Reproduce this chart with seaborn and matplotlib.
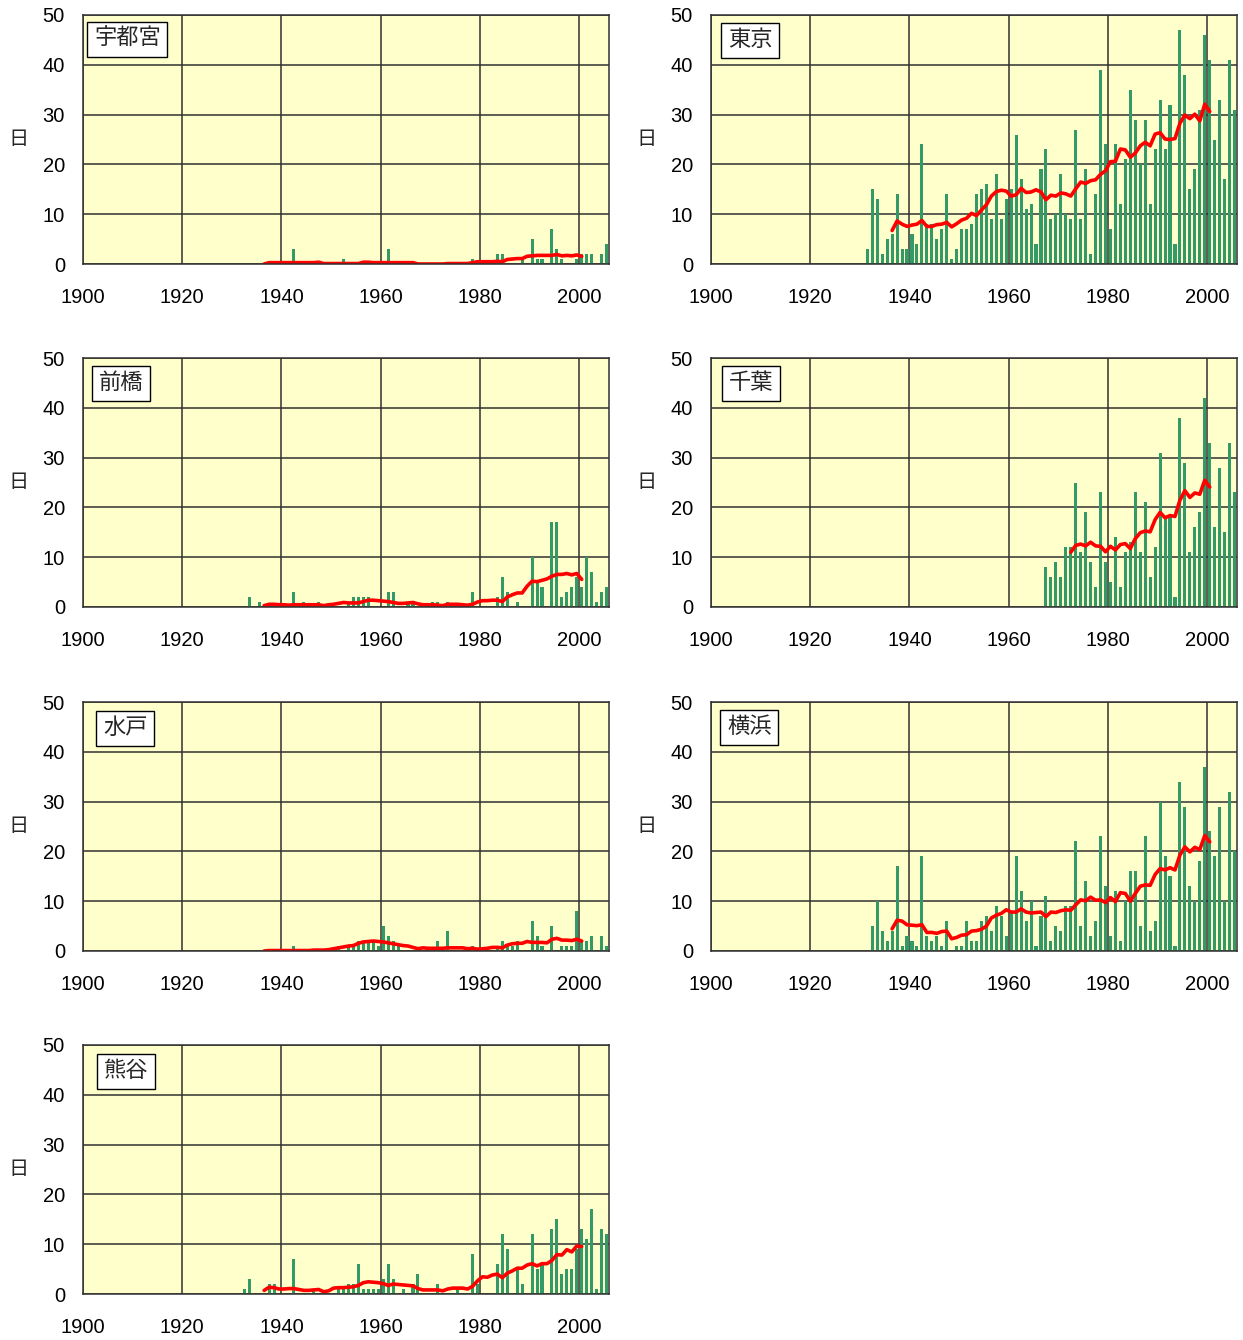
import numpy as np
import pandas as pd
import matplotlib
matplotlib.use("Agg")
import matplotlib.pyplot as plt
import seaborn as sns

sns.set_style("white")
plt.rcParams['font.family'] = ['Liberation Sans', 'Noto Sans CJK JP']

# ---------------- data (days per year) ----------------
years_full = list(range(1931, 2006))
years_chiba = list(range(1967, 2006))

def from_sparse(d):
    return [d.get(y, 0) for y in years_full]

utsunomiya = from_sparse({1942: 3, 1952: 1, 1961: 3, 1978: 1, 1983: 2, 1984: 2, 1988: 1,
                          1990: 5, 1991: 1, 1992: 1, 1994: 7, 1995: 3, 1996: 1, 1999: 1,
                          2000: 2, 2001: 2, 2002: 2, 2004: 2, 2005: 4})

tokyo = [3, 15, 13, 2, 5, 6, 14, 3, 3, 6,      # 1931-1940
         4, 24, 8, 8, 5, 7, 14, 1, 3, 7,       # 1941-1950
         7, 8, 14, 15, 16, 9, 18, 9, 13, 15,   # 1951-1960
         26, 17, 11, 12, 4, 19, 23, 9, 10, 18, # 1961-1970
         10, 9, 27, 9, 19, 2, 14, 39, 24, 7,   # 1971-1980
         24, 12, 21, 35, 29, 20, 29, 12, 23, 33,  # 1981-1990
         23, 32, 4, 47, 38, 15, 19, 31, 46, 41,   # 1991-2000
         25, 33, 17, 41, 31]                      # 2001-2005

maebashi = from_sparse({1933: 2, 1935: 1, 1942: 3, 1944: 1, 1947: 1, 1953: 1, 1954: 2,
                        1955: 2, 1956: 2, 1957: 2, 1961: 3, 1962: 3, 1965: 1, 1966: 1,
                        1970: 1, 1971: 1, 1973: 1, 1978: 3, 1983: 2, 1984: 6, 1985: 3,
                        1987: 1, 1990: 10, 1991: 5, 1992: 4, 1994: 17, 1995: 17, 1996: 2,
                        1997: 3, 1998: 4, 1999: 6, 2000: 4, 2001: 10, 2002: 7, 2003: 1,
                        2004: 3, 2005: 4})

chiba = [8, 6, 9, 6, 12, 12, 25, 11, 19, 9,    # 1967-1976
         4, 23, 9, 5, 14, 4, 11, 13, 23, 11,   # 1977-1986
         21, 6, 12, 31, 18, 18, 2, 38, 29, 11, # 1987-1996
         16, 19, 42, 33, 16, 28, 15, 33, 23]   # 1997-2005

mito = from_sparse({1942: 1, 1951: 1, 1953: 1, 1954: 1, 1955: 2, 1956: 2, 1957: 2,
                    1958: 2, 1959: 1, 1960: 5, 1961: 3, 1962: 2, 1963: 1, 1971: 2,
                    1973: 4, 1978: 1, 1983: 1, 1984: 2, 1985: 1, 1986: 1, 1987: 2,
                    1990: 6, 1991: 3, 1992: 1, 1994: 5, 1996: 1, 1997: 1, 1998: 1,
                    1999: 8, 2000: 2, 2001: 2, 2002: 3, 2004: 3, 2005: 1})

yokohama = [0, 5, 10, 4, 2, 4, 17, 1, 3, 2,    # 1931-1940
            1, 19, 3, 2, 3, 1, 6, 0, 1, 1,     # 1941-1950
            6, 2, 2, 6, 7, 4, 9, 7, 3, 8,      # 1951-1960
            19, 12, 6, 10, 1, 7, 11, 2, 5, 4,  # 1961-1970
            9, 9, 22, 5, 14, 3, 6, 23, 13, 3,  # 1971-1980
            12, 2, 10, 16, 16, 5, 23, 4, 6, 30,   # 1981-1990
            19, 15, 1, 34, 29, 13, 10, 18, 37, 24, # 1991-2000
            19, 29, 10, 32, 20]                    # 2001-2005

kumagaya = from_sparse({1932: 1, 1933: 3, 1937: 2, 1938: 2, 1942: 7, 1946: 1, 1951: 1,
                        1952: 1, 1953: 2, 1954: 2, 1955: 6, 1956: 1, 1957: 1, 1958: 1,
                        1959: 1, 1960: 3, 1961: 6, 1962: 3, 1964: 1, 1966: 2, 1967: 4,
                        1971: 2, 1975: 1, 1978: 8, 1979: 2, 1983: 6, 1984: 12, 1985: 9,
                        1987: 5, 1988: 2, 1990: 12, 1991: 5, 1992: 6, 1994: 13, 1995: 15,
                        1996: 4, 1997: 5, 1998: 5, 1999: 9, 2000: 13, 2001: 11, 2002: 17,
                        2003: 1, 2004: 13, 2005: 12})

station_names = ['宇都宮', '東京', '前橋', '千葉', '水戸', '横浜', '熊谷']
station_years = [years_full, years_full, years_full, years_chiba, years_full, years_full, years_full]
station_values = [utsunomiya, tokyo, maebashi, chiba, mito, yokohama, kumagaya]
x_ticks = [1900, 1920, 1940, 1960, 1980, 2000]
y_ticks = [0, 10, 20, 30, 40, 50]
y_label = '日'

# ---------------- layout ----------------
W, H = 1243, 1340
col_left = [83, 711]
row_top = [15, 358, 702, 1045]
ax_w, ax_h = 526, 249
# label box offsets (px from axes top-left)
label_off = [(5, 8), (11, 9), (10, 9), (12, 9), (14, 10), (10, 9), (15, 10)]

fig = plt.figure(figsize=(W / 100, H / 100), dpi=100)

for i, (name, yrs, vals) in enumerate(zip(station_names, station_years, station_values)):
    r, c = divmod(i, 2)
    left = col_left[c] / W
    bottom = 1 - (row_top[r] + ax_h) / H
    ax = fig.add_axes([left, bottom, ax_w / W, ax_h / H])
    ax.set_facecolor('#FFFFCC')
    ax.set_axisbelow(True)

    df = pd.DataFrame({'year': yrs, 'days': vals})
    df['x'] = df['year'] + 0.5
    sns.barplot(data=df, x='x', y='days', native_scale=True, color='#339966',
                saturation=1, width=0.62, errorbar=None, linewidth=0, ax=ax)
    ma = df['days'].rolling(11, center=True).mean()
    ok = ma.notna()
    sns.lineplot(x=df.loc[ok, 'x'], y=ma[ok], color='#FF0000', linewidth=2.6, ax=ax)

    ax.set_xlim(1900, 2006)
    ax.set_ylim(0, 50)
    ax.set_xticks(x_ticks)
    ax.set_xticklabels([str(t) for t in x_ticks])
    ax.set_yticks(y_ticks)
    ax.set_yticklabels([str(t) for t in y_ticks])
    ax.grid(True, color='#303030', linewidth=1.1)
    ax.tick_params(axis='both', length=0, labelsize=14.5, colors='black')
    ax.tick_params(axis='x', pad=17.5)
    ax.tick_params(axis='y', pad=13)
    ax.set_xlabel('')
    ax.set_ylabel('')
    for s in ax.spines.values():
        s.set_visible(True)
        s.set_color('#303030')
        s.set_linewidth(1.1)

    ax.text(-0.123, 0.5, y_label, transform=ax.transAxes, ha='center', va='center',
            fontsize=14.5)
    dx, dy = label_off[i]
    ax.text((dx + 6) / ax_w, 1 - (dy + 6) / ax_h, name, transform=ax.transAxes,
            ha='left', va='top', fontsize=16,
            bbox=dict(boxstyle='square,pad=0.3', fc='white', ec='black', lw=1))

fig.savefig('out.png', dpi=100)
